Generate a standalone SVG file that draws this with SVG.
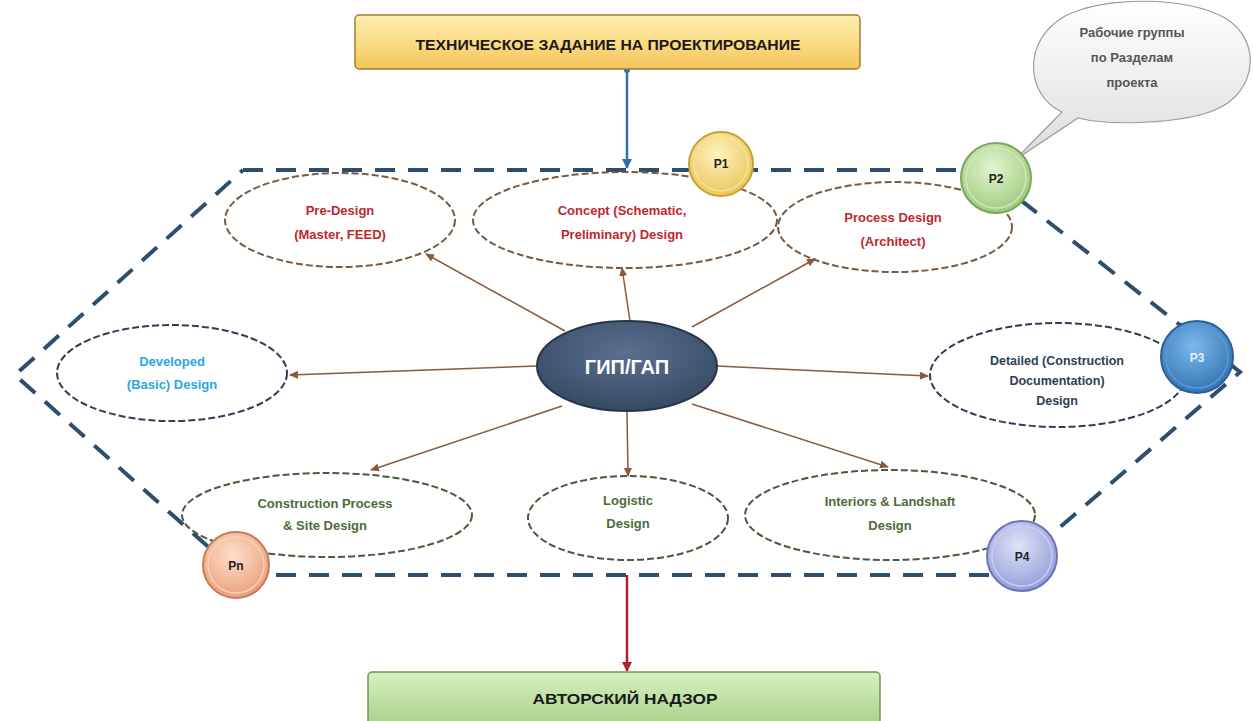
<svg xmlns="http://www.w3.org/2000/svg" width="1253" height="721" viewBox="0 0 1253 721">
<style>
.t{font-family:"Liberation Sans",Arial,sans-serif;font-weight:bold;text-anchor:middle}
.box{font-size:15px;fill:#1a1a1a}
.red{fill:#c0272d;font-size:13px}
.grn{fill:#4e6b3a;font-size:13px}
.nav{fill:#2e3e55;font-size:12.5px}
.cy{fill:#2aa7de;font-size:13px}
.pl{font-size:12px;fill:#222}
.dl{fill:none;stroke:#7a5a40;stroke-width:2;stroke-dasharray:7 3}
.dg{fill:none;stroke:#4a5a3a;stroke-width:2;stroke-dasharray:7 3}
.dn{fill:none;stroke:#2e3e55;stroke-width:2;stroke-dasharray:7 3}
.ar{stroke:#8b5a3c;stroke-width:1.5;fill:none;marker-end:url(#ab)}
.hex{fill:none;stroke:#2d4e6e;stroke-width:4;stroke-dasharray:20 13}
</style>
<defs>
<linearGradient id="gy" x1="0" y1="0" x2="0" y2="1"><stop offset="0" stop-color="#fdeeb0"/><stop offset="0.5" stop-color="#fbdc85"/><stop offset="1" stop-color="#f2c35a"/></linearGradient>
<linearGradient id="gg" x1="0" y1="0" x2="0" y2="1"><stop offset="0" stop-color="#d8f0c0"/><stop offset="1" stop-color="#a8d48a"/></linearGradient>
<linearGradient id="gc" x1="0" y1="0" x2="0" y2="1"><stop offset="0" stop-color="#ffffff"/><stop offset="1" stop-color="#dcdcdc"/></linearGradient>
<radialGradient id="g1" cx="0.45" cy="0.35" r="0.7"><stop offset="0" stop-color="#fff3c0"/><stop offset="1" stop-color="#e9c253"/></radialGradient>
<radialGradient id="g2" cx="0.45" cy="0.35" r="0.7"><stop offset="0" stop-color="#e4f4cf"/><stop offset="1" stop-color="#98c878"/></radialGradient>
<radialGradient id="g3" cx="0.45" cy="0.35" r="0.7"><stop offset="0" stop-color="#7cb8ea"/><stop offset="1" stop-color="#2f6fb0"/></radialGradient>
<radialGradient id="g4" cx="0.45" cy="0.35" r="0.7"><stop offset="0" stop-color="#dfe3f8"/><stop offset="1" stop-color="#8e98d6"/></radialGradient>
<radialGradient id="gn" cx="0.45" cy="0.35" r="0.7"><stop offset="0" stop-color="#fde0cc"/><stop offset="1" stop-color="#e89a74"/></radialGradient>
<radialGradient id="gm" cx="0.5" cy="0.35" r="0.7"><stop offset="0" stop-color="#5a7090"/><stop offset="1" stop-color="#33475f"/></radialGradient>
<marker id="ab" markerWidth="10" markerHeight="10" refX="8" refY="4" orient="auto" markerUnits="userSpaceOnUse"><path d="M0,0 L9,4 L0,8 Z" fill="#8b5a3c"/></marker>
<marker id="abl" markerWidth="12" markerHeight="12" refX="9" refY="5" orient="auto" markerUnits="userSpaceOnUse"><path d="M0,0 L10,5 L0,10 Z" fill="#2f6fb0"/></marker>
<marker id="ard" markerWidth="12" markerHeight="12" refX="9" refY="5" orient="auto" markerUnits="userSpaceOnUse"><path d="M0,0 L10,5 L0,10 Z" fill="#b0202a"/></marker>
</defs>
<rect width="1253" height="721" fill="#ffffff"/>

<g id="hexagon">
<path class="hex" d="M243,170 L995,170 M995,180 L1240,372 L1022,560 M1022,575 L240,575 L15,375 L243,170"/>
</g>

<g id="connectors">
<line x1="627" y1="70" x2="627" y2="168" stroke="#2f6fb0" stroke-width="2.5" marker-end="url(#abl)"/>
<circle cx="627" cy="70" r="3" fill="#2f6fb0"/>
<line x1="627" y1="575" x2="627" y2="671" stroke="#b0202a" stroke-width="2.5" marker-end="url(#ard)"/>
<line class="ar" x1="565" y1="331" x2="426" y2="254"/>
<line class="ar" x1="630" y1="321" x2="622" y2="268"/>
<line class="ar" x1="692" y1="327" x2="815" y2="259"/>
<line class="ar" x1="537" y1="366" x2="290" y2="375"/>
<line class="ar" x1="717" y1="366" x2="928" y2="376"/>
<line class="ar" x1="562" y1="406" x2="371" y2="470"/>
<line class="ar" x1="627" y1="411" x2="628" y2="476"/>
<line class="ar" x1="692" y1="404" x2="888" y2="467"/>
</g>

<g id="top-box">
<rect x="355" y="15" width="505" height="54" rx="4" fill="url(#gy)" stroke="#a08030" stroke-width="1.5"/>
<text class="t box" x="608" y="50" textLength="385" lengthAdjust="spacingAndGlyphs">ТЕХНИЧЕСКОЕ ЗАДАНИЕ НА ПРОЕКТИРОВАНИЕ</text>
</g>

<g id="bottom-box">
<rect x="368" y="672" width="512" height="52" rx="4" fill="url(#gg)" stroke="#6a9a50" stroke-width="1.5"/>
<text class="t box" x="625" y="704" textLength="185" lengthAdjust="spacingAndGlyphs">АВТОРСКИЙ НАДЗОР</text>
</g>

<g id="callout">
<path d="M1062,112 C1025,95 1022,40 1065,16 C1105,-4 1185,-4 1225,18 C1262,40 1258,92 1215,110 C1180,124 1110,126 1078,118 L1015,160 Z" fill="url(#gc)" stroke="#9a9a9a" stroke-width="1.2"/>
<text class="t" x="1132" y="37" font-size="13" fill="#555">Рабочие группы</text>
<text class="t" x="1132" y="62" font-size="13" fill="#555">по Разделам</text>
<text class="t" x="1132" y="87" font-size="13" fill="#555">проекта</text>
</g>

<g id="center">
<ellipse cx="627" cy="366" rx="90" ry="45" fill="url(#gm)" stroke="#263548" stroke-width="2"/>
<text class="t" x="627" y="374" font-size="20" fill="#ffffff">ГИП/ГАП</text>
</g>

<g id="pre-design">
<ellipse class="dl" cx="340" cy="220" rx="115" ry="47"/>
<text class="t red" x="340" y="215">Pre-Design</text>
<text class="t red" x="340" y="239">(Master, FEED)</text>
</g>

<g id="concept">
<ellipse class="dl" cx="625" cy="220" rx="152" ry="48"/>
<text class="t red" x="622" y="215">Concept (Schematic,</text>
<text class="t red" x="622" y="239">Preliminary) Design</text>
</g>

<g id="process-design">
<ellipse class="dl" cx="895" cy="227" rx="117" ry="45"/>
<text class="t red" x="893" y="222">Process Design</text>
<text class="t red" x="893" y="246">(Architect)</text>
</g>

<g id="developed">
<ellipse class="dn" cx="172" cy="373" rx="115" ry="48"/>
<text class="t cy" x="172" y="366">Developed</text>
<text class="t cy" x="172" y="389">(Basic) Design</text>
</g>

<g id="detailed">
<ellipse class="dn" cx="1058" cy="375" rx="128" ry="52"/>
<text class="t nav" x="1057" y="365">Detailed (Construction</text>
<text class="t nav" x="1057" y="385">Documentation)</text>
<text class="t nav" x="1057" y="405">Design</text>
</g>

<g id="construction">
<ellipse class="dg" cx="327" cy="515" rx="145" ry="42"/>
<text class="t grn" x="325" y="508">Construction Process</text>
<text class="t grn" x="325" y="530">&amp; Site Design</text>
</g>

<g id="logistic">
<ellipse class="dg" cx="628" cy="518" rx="100" ry="42"/>
<text class="t grn" x="628" y="505">Logistic</text>
<text class="t grn" x="628" y="528">Design</text>
</g>

<g id="interiors">
<ellipse class="dg" cx="890" cy="515" rx="145" ry="45"/>
<text class="t grn" x="890" y="506">Interiors &amp; Landshaft</text>
<text class="t grn" x="890" y="530">Design</text>
</g>

<g id="p1">
<circle cx="721" cy="164" r="32" fill="url(#g1)" stroke="#c9a030" stroke-width="2"/>
<circle cx="721" cy="164" r="27" fill="none" stroke="#f7e3a0" stroke-width="1.5"/>
<text class="t pl" x="721" y="168">P1</text>
</g>
<g id="p2">
<circle cx="996" cy="178" r="35" fill="url(#g2)" stroke="#78a858" stroke-width="2"/>
<circle cx="996" cy="178" r="30" fill="none" stroke="#cfe8b8" stroke-width="1.5"/>
<text class="t pl" x="996" y="183">P2</text>
</g>
<g id="p3">
<circle cx="1197" cy="357" r="36" fill="url(#g3)" stroke="#2a5f98" stroke-width="2"/>
<circle cx="1197" cy="357" r="31" fill="none" stroke="#5a9ad6" stroke-width="1.5"/>
<text class="t pl" x="1197" y="362" style="fill:#dfeeff">P3</text>
</g>
<g id="p4">
<circle cx="1022" cy="556" r="35" fill="url(#g4)" stroke="#6a74b8" stroke-width="2"/>
<circle cx="1022" cy="556" r="30" fill="none" stroke="#c8cdf0" stroke-width="1.5"/>
<text class="t pl" x="1022" y="561">P4</text>
</g>
<g id="pn">
<circle cx="236" cy="565" r="33" fill="url(#gn)" stroke="#c87a58" stroke-width="2"/>
<circle cx="236" cy="565" r="28" fill="none" stroke="#fbd0b8" stroke-width="1.5"/>
<text class="t pl" x="236" y="570">Pn</text>
</g>
</svg>
